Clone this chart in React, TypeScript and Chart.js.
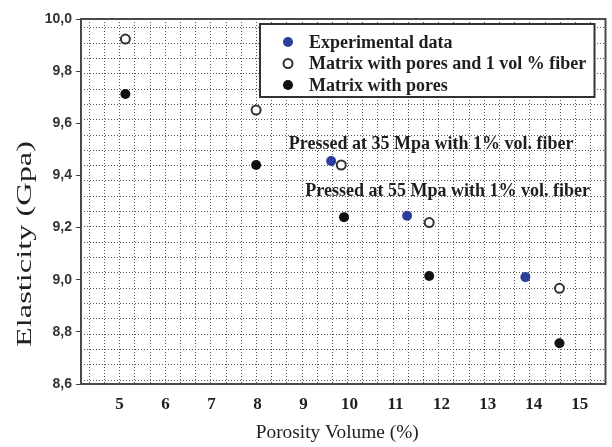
import React, { useEffect, useRef } from 'react';
import { Chart, registerables } from 'chart.js';

Chart.register(...registerables);

// ---- data ----
const seriesLabels = ['Experimental data', 'Matrix with pores and 1 vol % fiber', 'Matrix with pores'];
const porosityExperimental = [9.6, 11.25, 13.82];
const elasticityExperimental = [9.455, 9.245, 9.01];
const porosityFiber = [5.13, 7.97, 9.82, 11.73, 14.56];
const elasticityFiber = [9.923, 9.651, 9.44, 9.219, 8.967];
const porosityPores = [5.13, 7.97, 9.88, 11.73, 14.56];
const elasticityPores = [9.712, 9.44, 9.24, 9.014, 8.756];

const xTickStep = 1;
const yTickStep = 0.2;
const xRange = [4.166, 15.56];
const yRange = [8.6, 10.0];

const annotationTexts = ['Pressed at 35 Mpa with 1% vol. fiber', 'Pressed at 55 Mpa with 1% vol. fiber'];
const annotationX = [8.68, 9.04];
const annotationY = [9.52, 9.34];

const xTitle = 'Porosity Volume (%)';
const yTitle = 'Elasticity (Gpa)';

const SERIF = '"Liberation Serif", "Times New Roman", serif';
const SANS = '"Liberation Sans", Arial, sans-serif';

const zip = (xs: number[], ys: number[]) => xs.map((x, i) => ({ x, y: ys[i] }));

const extrasPlugin = {
  id: 'extras',
  beforeDatasetsDraw(chart: any) {
    const { ctx, chartArea: a } = chart;
    ctx.save();
    ctx.strokeStyle = '#4a4a4a';
    ctx.lineWidth = 2;
    ctx.strokeRect(a.left, a.top, a.right - a.left, a.bottom - a.top);
    ctx.restore();
  },
  afterDatasetsDraw(chart: any) {
    const { ctx, chartArea: a, scales } = chart;
    ctx.save();
    // annotations anchored to data coordinates
    ctx.fillStyle = '#1e1e1e';
    ctx.font = `bold 18px ${SERIF}`;
    ctx.textAlign = 'left';
    ctx.textBaseline = 'middle';
    annotationTexts.forEach((t, i) => {
      ctx.fillText(t, scales.x.getPixelForValue(annotationX[i]), scales.y.getPixelForValue(annotationY[i]));
    });

    // legend box
    const bx = a.left + 179;
    const by = a.top + 5;
    const bw = a.right - 11 - bx;
    const bh = 73;
    ctx.fillStyle = '#ffffff';
    ctx.fillRect(bx, by, bw, bh);
    ctx.strokeStyle = '#333';
    ctx.lineWidth = 2;
    ctx.strokeRect(bx, by, bw, bh);
    chart.data.datasets.forEach((ds: any, i: number) => {
      const cy = by + 18 + i * 21.5;
      const cx = bx + 28;
      ctx.beginPath();
      ctx.arc(cx, cy, ds.pointRadius, 0, Math.PI * 2);
      ctx.fillStyle = ds.pointBackgroundColor;
      ctx.fill();
      if (ds.pointBorderWidth) {
        ctx.lineWidth = ds.pointBorderWidth;
        ctx.strokeStyle = ds.pointBorderColor;
        ctx.stroke();
      }
      ctx.fillStyle = '#1e1e1e';
      ctx.font = `bold 18px ${SERIF}`;
      ctx.textAlign = 'left';
      ctx.textBaseline = 'middle';
      ctx.fillText(ds.label, bx + 49, cy + 1);
    });

    // axis titles (stretched like the reference)
    const drawStretched = (text: string, x: number, y: number, rot: number, len: number, font: string) => {
      ctx.save();
      ctx.font = font;
      ctx.fillStyle = '#222';
      ctx.textAlign = 'center';
      ctx.textBaseline = 'middle';
      ctx.translate(x, y);
      ctx.rotate(rot);
      const w = ctx.measureText(text).width;
      ctx.scale(len / w, 1);
      ctx.fillText(text, 0, 0);
      ctx.restore();
    };
    drawStretched(xTitle, (a.left + a.right) / 2 - 6, a.bottom + 49, 0, 163, `19px ${SERIF}`);
    drawStretched(yTitle, 26, a.top + 225, -Math.PI / 2, 206, `20px ${SERIF}`);
    ctx.restore();
  },
};

export default function App() {
  const ref = useRef<HTMLCanvasElement>(null);
  useEffect(() => {
    if (!ref.current) return;
    const chart = new Chart(ref.current, {
      type: 'scatter',
      data: {
        datasets: [
          {
            label: seriesLabels[0],
            data: zip(porosityExperimental, elasticityExperimental),
            pointRadius: 5,
            pointBackgroundColor: '#2c3d9c',
            pointBorderColor: '#2c3d9c',
            pointBorderWidth: 0,
            xAxisID: 'x',
            yAxisID: 'y',
          },
          {
            label: seriesLabels[1],
            data: zip(porosityFiber, elasticityFiber),
            pointRadius: 4.5,
            pointBackgroundColor: '#ffffff',
            pointBorderColor: '#333333',
            pointBorderWidth: 2,
            xAxisID: 'x',
            yAxisID: 'y',
          },
          {
            label: seriesLabels[2],
            data: zip(porosityPores, elasticityPores),
            pointRadius: 5,
            pointBackgroundColor: '#111111',
            pointBorderColor: '#111111',
            pointBorderWidth: 0,
            xAxisID: 'x',
            yAxisID: 'y',
          },
        ],
      } as any,
      options: {
        responsive: false,
        animation: false,
        layout: { padding: { top: 19, right: 2, left: 0, bottom: 0 } },
        plugins: { legend: { display: false }, tooltip: { enabled: false } },
        scales: {
          x: {
            type: 'linear',
            axis: 'x',
            position: 'bottom',
            min: xRange[0],
            max: xRange[1],
            grid: { display: false, drawTicks: false },
            border: { display: false },
            ticks: {
              stepSize: xTickStep,
              includeBounds: false,
              padding: 10,
              color: '#1e1e1e',
              font: { family: SERIF, size: 17, weight: 'bold' },
              callback: (v: any) => String(v),
              maxRotation: 0,
              autoSkip: false,
            },
            afterFit: (s: any) => { s.height = 63; },
          },
          y: {
            type: 'linear',
            axis: 'y',
            position: 'left',
            min: yRange[0],
            max: yRange[1],
            grid: { display: true, drawOnChartArea: false, drawTicks: true, tickLength: 5, color: '#444', tickColor: '#444' },
            border: { display: false },
            ticks: {
              stepSize: yTickStep,
              includeBounds: false,
              padding: 4,
              color: '#333',
              font: { family: SANS, size: 14, weight: 'bold' },
              callback: (v: any) => Number(v).toFixed(1).replace('.', ','),
            },
            afterFit: (s: any) => { s.width = 81; },
          },
          gx: {
            type: 'linear',
            axis: 'x',
            position: 'top',
            min: -0.55,
            max: 33.98,
            grid: { display: true, drawTicks: false, color: '#555555', lineWidth: 1 },
            border: { display: false, dash: [1, 2] },
            ticks: { display: false, stepSize: 1, includeBounds: false },
            afterFit: (s: any) => { s.height = 0; },
          },
          gy: {
            type: 'linear',
            axis: 'y',
            position: 'right',
            min: -0.26,
            max: 23.58,
            grid: { display: true, drawTicks: false, color: '#555555', lineWidth: 1 },
            border: { display: false, dash: [1, 2] },
            ticks: { display: false, stepSize: 1, includeBounds: false },
            afterFit: (s: any) => { s.width = 0; },
          },
        },
      } as any,
      plugins: [extrasPlugin],
    });
    return () => chart.destroy();
  }, []);
  return (
    <div style={{ position: 'fixed', left: 0, top: 0, width: 612, height: 447, background: '#fff' }}>
      <canvas ref={ref} width={612} height={447} style={{ display: 'block', width: 612, height: 447 }} />
    </div>
  );
}
